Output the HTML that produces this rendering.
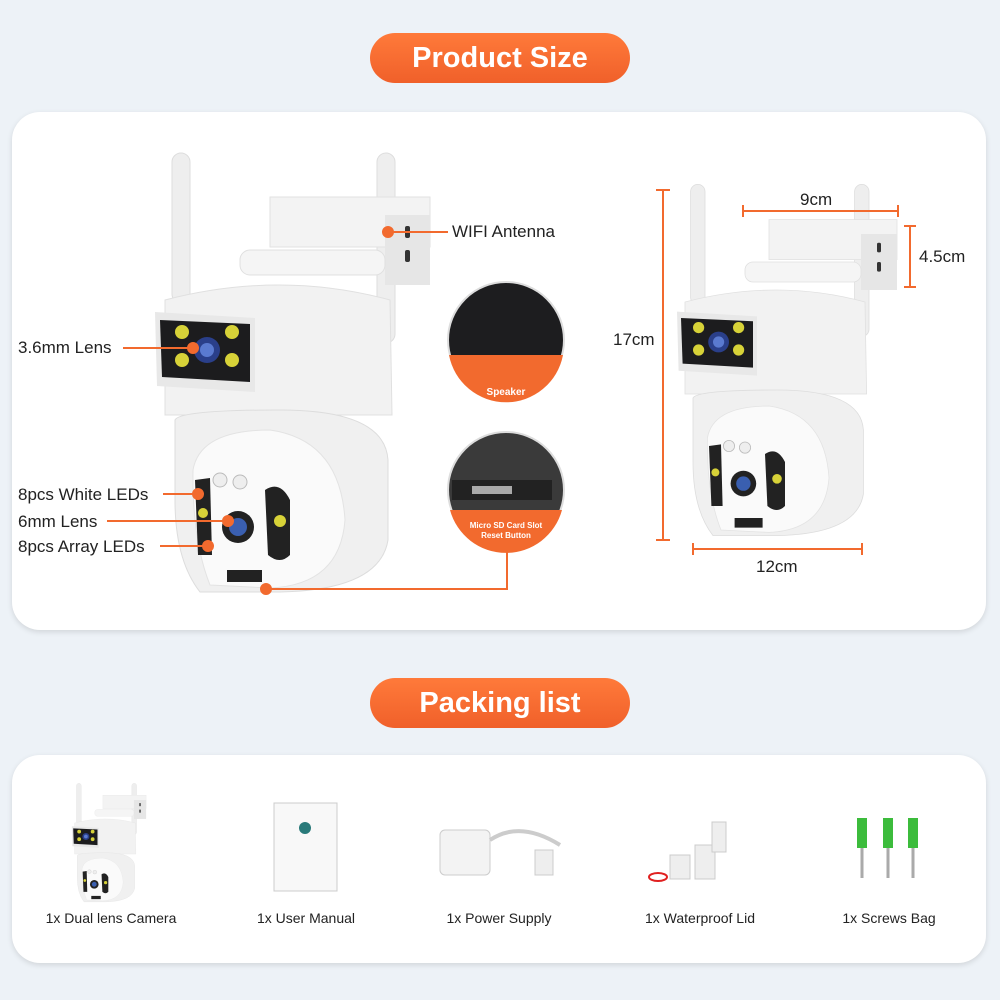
<!DOCTYPE html>
<html><head><meta charset="utf-8"><style>
body{margin:0;width:1000px;height:1000px;background:#edf2f7;font-family:"Liberation Sans",sans-serif;position:relative;overflow:hidden}
.pill{position:absolute;left:370px;width:260px;height:50px;border-radius:25px;background:linear-gradient(#ff7a3a,#f0602a);color:#fff;font-weight:bold;font-size:29px;text-align:center;line-height:50px}
.panel{position:absolute;left:12px;width:974px;background:#fff;border-radius:28px;box-shadow:0 2px 6px rgba(0,0,0,.12)}
.t{position:absolute;font-size:17px;color:#222;white-space:nowrap}
.s{position:absolute;font-size:14px;color:#222;white-space:nowrap;text-align:center;width:180px}
</style></head><body>
<div class="pill" style="top:33px">Product Size</div>
<div class="panel" style="top:112px;height:518px"></div>
<div class="pill" style="top:678px">Packing list</div>
<div class="panel" style="top:755px;height:208px"></div>
<svg width="1000" height="1000" style="position:absolute;left:0;top:0">
<defs>
<g id="cam">
<rect x="172" y="153" width="18" height="150" rx="9" fill="#eee" stroke="#ddd"/>
<rect x="377" y="153" width="18" height="190" rx="9" fill="#eee" stroke="#ddd"/>
<rect x="270" y="197" width="160" height="50" fill="#f3f3f3" stroke="#e2e2e2"/>
<rect x="385" y="215" width="45" height="70" fill="#e6e6e6"/>
<rect x="405" y="226" width="5" height="12" rx="2" fill="#333"/>
<rect x="405" y="250" width="5" height="12" rx="2" fill="#333"/>
<rect x="240" y="250" width="145" height="25" rx="10" fill="#f5f5f5" stroke="#e0e0e0"/>
<path d="M165 300 Q280 270 390 300 L392 415 L165 415 Z" fill="#f2f2f2" stroke="#e0e0e0"/>
<path d="M155 312 L255 318 L255 392 L157 386 Z" fill="#e8e8e8"/>
<path d="M160 320 L250 324 L250 382 L162 377 Z" fill="#1c1c1e"/>
<circle cx="207" cy="350" r="13" fill="#2a3f8a"/><circle cx="207" cy="350" r="7" fill="#5a7ad0"/>
<circle cx="182" cy="332" r="7" fill="#d7d238"/><circle cx="232" cy="332" r="7" fill="#d7d238"/>
<circle cx="182" cy="360" r="7" fill="#d7d238"/><circle cx="232" cy="360" r="7" fill="#d7d238"/>
<path d="M175 420 Q180 410 280 410 Q385 410 388 460 L388 540 Q380 590 280 592 L200 592 Q175 560 175 500 Z" fill="#f0f0f0" stroke="#ddd"/>
<path d="M193 470 Q200 430 270 430 Q340 440 345 520 Q340 585 270 588 L210 585 Q192 540 193 470 Z" fill="#fafafa" stroke="#e3e3e3"/>
<path d="M195 480 L210 478 L212 555 L198 555 Z" fill="#222"/>
<path d="M265 490 Q280 480 290 500 L290 555 Q280 565 268 555 Z" fill="#222"/>
<path d="M227 570 L262 570 L262 582 L227 582 Z" fill="#222"/>
<circle cx="220" cy="480" r="7" fill="#eee" stroke="#bbb"/><circle cx="240" cy="482" r="7" fill="#eee" stroke="#bbb"/>
<circle cx="238" cy="527" r="16" fill="#222"/><circle cx="238" cy="527" r="9" fill="#3a5fb0"/>
<circle cx="280" cy="521" r="6" fill="#d7d238"/><circle cx="203" cy="513" r="5" fill="#d7d238"/>
</g>
</defs>
<use href="#cam"/>
<use href="#cam" transform="translate(553,62) scale(0.8)"/>
<use href="#cam" transform="translate(30,742) scale(0.27)"/>
<g fill="#f26a2e" stroke="#f26a2e" stroke-width="2">
<line x1="388" y1="232" x2="448" y2="232"/><circle cx="388" cy="232" r="5"/>
<line x1="123" y1="348" x2="193" y2="348"/><circle cx="193" cy="348" r="5"/>
<line x1="163" y1="494" x2="198" y2="494"/><circle cx="198" cy="494" r="5"/>
<line x1="107" y1="521" x2="228" y2="521"/><circle cx="228" cy="521" r="5"/>
<line x1="160" y1="546" x2="208" y2="546"/><circle cx="208" cy="546" r="5"/>
<polyline points="266,589 507,589 507,545" fill="none"/><circle cx="266" cy="589" r="5"/>
<line x1="663" y1="190" x2="663" y2="540"/><line x1="656" y1="190" x2="670" y2="190"/><line x1="656" y1="540" x2="670" y2="540"/>
<line x1="743" y1="211" x2="898" y2="211"/><line x1="743" y1="205" x2="743" y2="217"/><line x1="898" y1="205" x2="898" y2="217"/>
<line x1="910" y1="226" x2="910" y2="287"/><line x1="904" y1="226" x2="916" y2="226"/><line x1="904" y1="287" x2="916" y2="287"/>
<line x1="693" y1="549" x2="862" y2="549"/><line x1="693" y1="543" x2="693" y2="555"/><line x1="862" y1="543" x2="862" y2="555"/>
</g>
<circle cx="506" cy="340" r="58" fill="#1d1d1f" stroke="#ddd" stroke-width="2"/>
<path d="M449 355 L563 355 A58 58 0 0 1 449 355Z" fill="#f26a2e"/>
<text x="506" y="395" font-size="10" font-weight="bold" fill="#fff" text-anchor="middle" font-family="Liberation Sans">Speaker</text>
<circle cx="506" cy="490" r="58" fill="#3a3a3a" stroke="#ddd" stroke-width="2"/>
<rect x="452" y="480" width="100" height="20" fill="#222"/><rect x="472" y="486" width="40" height="8" fill="#aaa"/>
<path d="M450 510 L562 510 A58 58 0 0 1 450 510Z" fill="#f26a2e"/>
<text x="506" y="528" font-size="8" font-weight="bold" fill="#fff" text-anchor="middle" font-family="Liberation Sans">Micro SD Card Slot</text>
<text x="506" y="538" font-size="8" font-weight="bold" fill="#fff" text-anchor="middle" font-family="Liberation Sans">Reset Button</text>
<rect x="274" y="803" width="63" height="88" fill="#f8f8f8" stroke="#ccc"/><circle cx="305" cy="828" r="6" fill="#2a7a7a"/>
<rect x="440" y="830" width="50" height="45" rx="5" fill="#f3f3f3" stroke="#ccc"/>
<path d="M490 840 Q520 820 560 845" stroke="#ccc" stroke-width="4" fill="none"/><rect x="535" y="850" width="18" height="25" fill="#eee" stroke="#ccc"/>
<rect x="670" y="855" width="20" height="24" fill="#eee" stroke="#ccc"/><rect x="695" y="845" width="20" height="34" fill="#eee" stroke="#ccc"/><rect x="712" y="822" width="14" height="30" fill="#eee" stroke="#ccc"/>
<ellipse cx="658" cy="877" rx="9" ry="4" fill="none" stroke="#e02020" stroke-width="2"/>
<g fill="#3cbc3c"><rect x="857" y="818" width="10" height="30"/><rect x="883" y="818" width="10" height="30"/><rect x="908" y="818" width="10" height="30"/></g>
<g stroke="#aaa" stroke-width="3"><line x1="862" y1="848" x2="862" y2="878"/><line x1="888" y1="848" x2="888" y2="878"/><line x1="913" y1="848" x2="913" y2="878"/></g>
</svg>
<div class="t" style="left:452px;top:222px">WIFI Antenna</div>
<div class="t" style="left:18px;top:338px">3.6mm Lens</div>
<div class="t" style="left:18px;top:485px">8pcs White LEDs</div>
<div class="t" style="left:18px;top:512px">6mm Lens</div>
<div class="t" style="left:18px;top:537px">8pcs Array LEDs</div>
<div class="t" style="left:613px;top:330px">17cm</div>
<div class="t" style="left:800px;top:190px">9cm</div>
<div class="t" style="left:919px;top:247px">4.5cm</div>
<div class="t" style="left:756px;top:557px">12cm</div>
<div class="s" style="left:21px;top:910px">1x Dual lens Camera</div>
<div class="s" style="left:216px;top:910px">1x User Manual</div>
<div class="s" style="left:409px;top:910px">1x Power Supply</div>
<div class="s" style="left:610px;top:910px">1x Waterproof Lid</div>
<div class="s" style="left:799px;top:910px">1x Screws Bag</div>
</body></html>
